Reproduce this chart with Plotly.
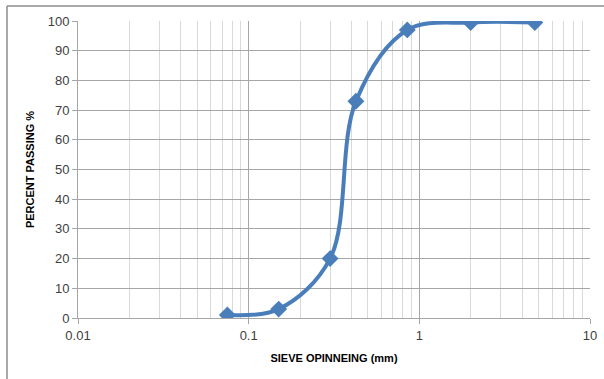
import plotly.graph_objects as go

sieve_mm = [0.075, 0.15, 0.3, 0.425, 0.85, 2.0, 4.75]
percent_passing = [1, 3, 20, 73, 97, 99.5, 99.5]
x_tick_vals = [0.01, 0.1, 1, 10]
x_tick_text = ["0.01", "0.1", "1", "10"]

fig = go.Figure()
fig.add_trace(go.Scatter(
    x=sieve_mm, y=percent_passing, mode="lines+markers",
    line=dict(color="#4A7EBB", width=4, shape="spline", smoothing=1.0),
    marker=dict(symbol="diamond", size=13, color="#4A7EBB"),
    showlegend=False,
))

font_family = "Liberation Sans, Arial, sans-serif"
fig.update_layout(
    width=604, height=379,
    margin=dict(l=78, r=14, t=21, b=61, autoexpand=False),
    paper_bgcolor="white", plot_bgcolor="white",
    font=dict(family=font_family, color="#404040", size=13),
    xaxis=dict(
        type="log", range=[-2, 1], automargin=False,
        tickvals=x_tick_vals, ticktext=x_tick_text,
        showgrid=True, gridcolor="#A6A6A6", gridwidth=1,
        minor=dict(showgrid=True, gridcolor="#D9D9D9", gridwidth=1, dtick="D1"),
        showline=True, linecolor="#A6A6A6", linewidth=1,
        ticks="outside", ticklen=5, tickcolor="#A6A6A6",
        tickfont=dict(size=13, color="#404040"),
        title=dict(text="<b>SIEVE OPINNEING (mm)</b>", font=dict(size=11, color="#000000"), standoff=12),
        zeroline=False,
    ),
    yaxis=dict(
        range=[0, 100], dtick=10, automargin=False,
        showgrid=True, gridcolor="#A6A6A6", gridwidth=1,
        showline=True, linecolor="#A6A6A6", linewidth=1,
        ticks="outside", ticklen=5, tickcolor="#A6A6A6",
        tickfont=dict(size=13, color="#404040"),
        title=dict(text="<b>PERCENT PASSING %</b>", font=dict(size=11, color="#000000"), standoff=10),
        zeroline=False,
    ),
    shapes=[
        dict(type="line", xref="paper", yref="paper",
             x0=(7 - 78) / 512, x1=1.1, y0=(318 - 6) / 297, y1=(318 - 6) / 297,
             line=dict(color="#8C8C8C", width=1.5)),
        dict(type="line", xref="paper", yref="paper",
             x0=(7 - 78) / 512, x1=(7 - 78) / 512, y0=(318 - 6) / 297, y1=-0.3,
             line=dict(color="#8C8C8C", width=1.5)),
    ],
)
fig.write_html("out.html", config={"displayModeBar": False},
               post_script="document.body.style.margin='0';document.body.style.overflow='hidden';")
